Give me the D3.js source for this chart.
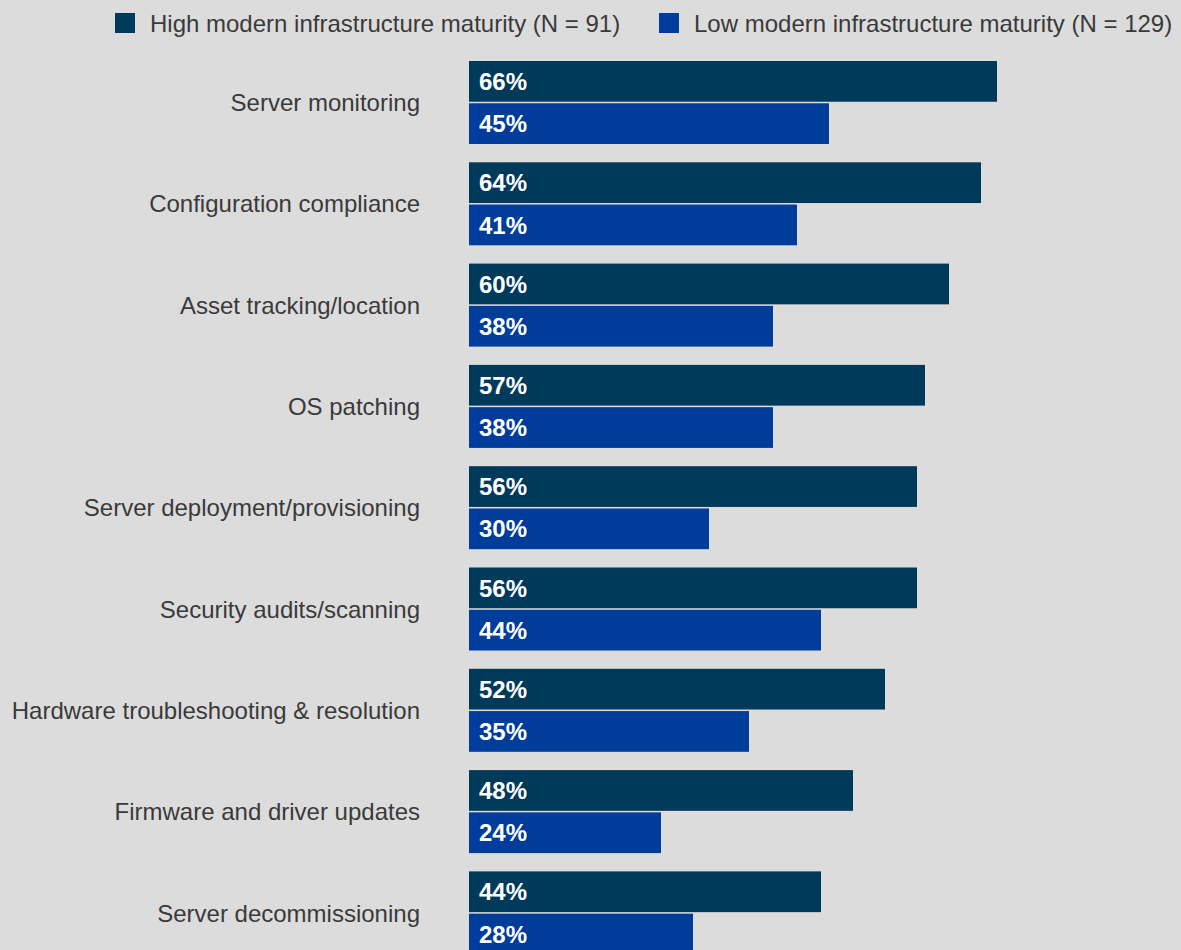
<!DOCTYPE html>
<html><head><meta charset="utf-8">
<script src="https://cdn.jsdelivr.net/npm/d3@7"></script>
<style>
html,body{margin:0;padding:0;background:#dcdcdc;overflow:hidden}
svg{display:block;font-family:"Liberation Sans",Arial,Helvetica,sans-serif}
</style></head>
<body>
<svg id="chart" width="1181" height="950"></svg>
<script>
const categories = ["Server monitoring","Configuration compliance","Asset tracking/location","OS patching","Server deployment/provisioning","Security audits/scanning","Hardware troubleshooting & resolution","Firmware and driver updates","Server decommissioning"];
const highValues = [66,64,60,57,56,56,52,48,44];
const lowValues = [45,41,38,38,30,44,35,24,28];
const seriesNames = ["High modern infrastructure maturity (N = 91)","Low modern infrastructure maturity (N = 129)"];
const seriesKeys = ["high","low"];
const colors = ["#003a5b","#003c99"];

const svg = d3.select("#chart");
svg.append("rect").attr("width",1181).attr("height",950).attr("fill","#dcdcdc");

const step = 101.3, topY = 61, gap = 3, barH = 40;
const groupH = barH*2+gap;
const y = d3.scaleBand().domain(categories)
  .range([topY, topY + categories.length*step - (step-groupH)])
  .paddingInner((step-groupH)/step).paddingOuter(0);
const y1 = d3.scaleBand().domain(seriesKeys).range([0, y.bandwidth()]).paddingInner(gap/groupH);
const x = d3.scaleLinear().domain([0,100]).range([469,1269]);
const color = d3.scaleOrdinal().domain(seriesKeys).range(colors);

const data = categories.map((c,i)=>({cat:c, vals:[{k:"high",v:highValues[i]},{k:"low",v:lowValues[i]}]}));

const g = svg.append("g").selectAll("g").data(data).join("g")
  .attr("transform",d=>`translate(0,${y(d.cat)})`);

g.selectAll("rect").data(d=>d.vals).join("rect")
  .attr("x",x(0)).attr("y",d=>y1(d.k))
  .attr("width",d=>x(d.v)-x(0)).attr("height",y1.bandwidth())
  .attr("fill",d=>color(d.k));

g.selectAll("text.val").data(d=>d.vals).join("text").attr("class","val")
  .attr("x",x(0)+10).attr("y",d=>y1(d.k)+y1.bandwidth()/2)
  .attr("dy","0.36em").attr("fill","#fff").attr("font-weight","bold")
  .attr("font-size",24).text(d=>d.v+"%");

g.append("text").attr("x",420).attr("y",y.bandwidth()/2).attr("dy","0.36em")
  .attr("text-anchor","end").attr("fill","#3a3a3a").attr("font-size",24)
  .text(d=>d.cat);

// legend
const legX = [115,659];
const leg = svg.append("g").selectAll("g").data(seriesKeys).join("g")
  .attr("transform",(d,i)=>`translate(${legX[i]},13)`);
leg.append("rect").attr("width",20).attr("height",20).attr("fill",d=>color(d));
leg.append("text").attr("x",35).attr("y",10).attr("dy","0.36em")
  .attr("fill","#3a3a3a").attr("font-size",24).text((d,i)=>seriesNames[i]);
</script>
</body></html>
